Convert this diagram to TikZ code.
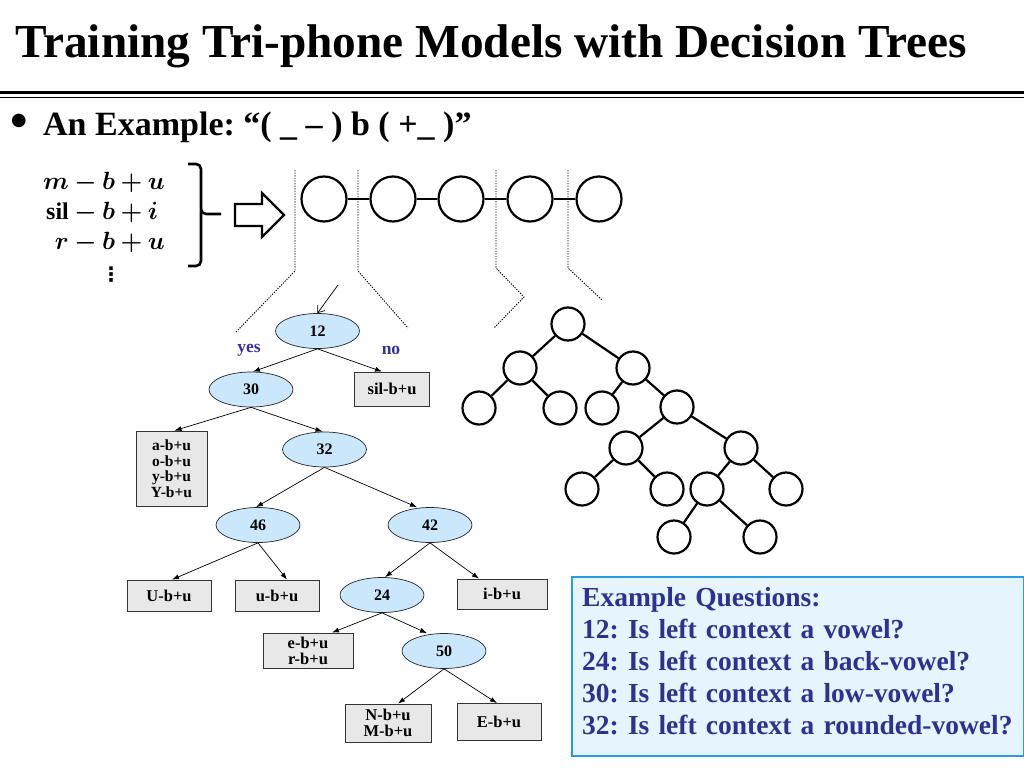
\documentclass[tikz,border=0pt]{standalone}
\usepackage{amsmath,amssymb,bm}
\usepackage{fontspec}
\setmainfont{Liberation Serif}
\newfontfamily\dejavu{DejaVu Sans}
\usetikzlibrary{shapes.geometric,arrows.meta}
\definecolor{qfill}{RGB}{202,231,252}
\definecolor{leaffill}{RGB}{232,232,232}
\definecolor{yncol}{RGB}{51,51,153}
\definecolor{qtext}{RGB}{46,49,146}
\definecolor{qborder}{RGB}{41,155,226}
\definecolor{qbg}{RGB}{230,244,254}
\frenchspacing
\tikzset{
  qnode/.style={ellipse, draw=black!85, line width=0.7pt, fill=qfill, minimum width=84pt, minimum height=35pt, inner sep=0pt, font=\fontsize{16}{17}\selectfont\bfseries},
  leaf/.style={rectangle, draw=black!80, line width=0.8pt, fill=leaffill, inner sep=0pt, align=center, font=\fontsize{16.5}{16}\selectfont\bfseries},
  tedge/.style={-{Latex[length=7pt,width=5pt]}, line width=0.7pt, black},
  hmm/.style={circle, draw, line width=2.2pt, minimum size=45pt, inner sep=0pt},
  tnode/.style={circle, draw, line width=2.2pt, minimum size=33pt, inner sep=0pt},
  thick edge/.style={line width=2.2pt},
  dotline/.style={line width=0.9pt, black, dash pattern=on 1.3pt off 1.3pt},
  yn/.style={font=\fontsize{17.5}{18}\selectfont\bfseries, text=yncol, inner sep=0pt}
}
\begin{document}
\begin{tikzpicture}[x=1pt,y=-1pt]
\path[use as bounding box] (0,0) rectangle (1024,768);

% title
\node[anchor=base west, inner sep=0pt, font=\fontsize{47.3}{50}\selectfont\bfseries] (title) at (15,57.5) {Training Tri-phone Models with Decision Trees};
\draw[line width=3pt] (0,92) -- (1024,92);
\draw[line width=1.2pt] (0,97.5) -- (1024,97.5);

% bullet line
\node[inner sep=0pt, font=\fontsize{50}{50}\selectfont\bfseries] (bul) at (19,126) {•};
\node[anchor=base west, inner sep=0pt, font=\fontsize{34}{36}\selectfont\bfseries] (ex) at (43,135) {An Example: “( \_ – ) b ( +\_ )”};

% contexts
\node[anchor=west, inner sep=0pt, font=\fontsize{24}{30}\selectfont] (ctx) at (43,213)
  {$\begin{array}{@{}r@{}l@{}} \bm{m} & \bm{{}-b+u}\\ \mathbf{sil} & \bm{{}-b+i}\\ \bm{r} & \bm{{}-b+u} \end{array}$};
\node[inner sep=0pt, font=\dejavu\fontsize{20}{20}\selectfont\bfseries] (vd) at (111,275) {⋮};

% bracket
\draw[line width=2.6pt, rounded corners=5pt] (188,164) -- (201,164) -- (201,214) -- (221,214);
\draw[line width=2.6pt, rounded corners=5pt] (201,210) -- (201,266) -- (188,266);

% hollow arrow
\draw[line width=2.2pt, fill=white, line join=miter] (235,204) -- (262,204) -- (262,193) -- (284,215) -- (262,237) -- (262,226) -- (235,226) -- cycle;

% HMM states
\node[hmm] (h1) at (324,199) {};
\node[hmm] (h2) at (393,199) {};
\node[hmm] (h3) at (461,199) {};
\node[hmm] (h4) at (530,199) {};
\node[hmm] (h5) at (599,199) {};
\draw[thick edge] (h1) -- (h2);
\draw[thick edge] (h2) -- (h3);
\draw[thick edge] (h3) -- (h4);
\draw[thick edge] (h4) -- (h5);

% dotted guide lines
\draw[dotline] (295,170) -- (295,271) -- (236,332);
\draw[dotline] (358,170) -- (358,271) -- (408,328);
\draw[dotline] (496,170) -- (496,268) -- (524,297) -- (494,328);
\draw[dotline] (568,170) -- (568,268) -- (602,300);

% decision tree
\node[qnode] (q12) at (317.5,331) {12};
\node[qnode] (q30) at (251,389.5) {30};
\node[leaf, minimum width=75pt, minimum height=34pt] (sil) at (392,389) {sil-b+u};
\node[qnode] (q32) at (324.5,449.5) {32};
\node[leaf, minimum width=71pt, minimum height=75pt, font=\fontsize{15.5}{15.5}\selectfont\bfseries] (abu) at (171.5,468.5) {a-b+u\\o-b+u\\y-b+u\\Y-b+u};
\node[qnode] (q46) at (258,525) {46};
\node[qnode] (q42) at (430,525) {42};
\node[leaf, minimum width=84pt, minimum height=31pt] (Ubu) at (169,595.5) {U-b+u};
\node[leaf, minimum width=84pt, minimum height=31pt] (ubu) at (277,595.5) {u-b+u};
\node[qnode] (q24) at (382,595) {24};
\node[leaf, minimum width=90pt, minimum height=30pt] (ibu) at (502,594) {i-b+u};
\node[leaf, minimum width=90pt, minimum height=35pt] (erbu) at (308,650.5) {e-b+u\\r-b+u};
\node[qnode] (q50) at (444,651) {50};
\node[leaf, minimum width=86pt, minimum height=38pt] (NMbu) at (388,723) {N-b+u\\M-b+u};
\node[leaf, minimum width=84pt, minimum height=37pt] (Ebu) at (499,722) {E-b+u};

\node[yn] (yes) at (249,350) {yes};
\node[yn] (no) at (391,350) {no};

\coordinate (pa) at (338,285);
\draw[-{Straight Barb[length=6pt,width=9pt]}, line width=0.7pt] (pa) -- (q12.north);

\draw[tedge] (q12.south) -- ([xshift=2pt]q30.north);
\draw[tedge] (q12.south) -- ([xshift=-10pt]sil.north);
\draw[tedge] (q30.south) -- ([xshift=3pt]abu.north);
\draw[tedge] (q30.south) -- ([xshift=-2pt]q32.north);
\draw[tedge] (q32.south) -- ([xshift=-2pt]q46.north);
\draw[tedge] (q32.south) -- ([xshift=-13pt]q42.north);
\draw[tedge] (q46.south) -- ([xshift=3pt]Ubu.north);
\draw[tedge] (q46.south) -- ([xshift=10pt]ubu.north);
\draw[tedge] (q42.south) -- ([xshift=3pt]q24.north);
\draw[tedge] (q42.south) -- ([xshift=-23pt]ibu.north);
\draw[tedge] (q24.south) -- ([xshift=24pt]erbu.north);
\draw[tedge] (q24.south) -- ([xshift=-17pt]q50.north);
\draw[tedge] (q50.south) -- ([xshift=10pt]NMbu.north);
\draw[tedge] (q50.south) -- ([xshift=-2pt]Ebu.north);

% generic tree
\node[tnode] (r0) at (568,324) {};
\node[tnode] (a1) at (520,368) {};
\node[tnode] (b1) at (633,368) {};
\node[tnode] (a2) at (479,408) {};
\node[tnode] (b2) at (560,408) {};
\node[tnode] (c2) at (602,408) {};
\node[tnode] (d2) at (677,407) {};
\node[tnode] (a3) at (626,448) {};
\node[tnode] (b3) at (741,448) {};
\node[tnode] (a4) at (582,489) {};
\node[tnode] (b4) at (667,489) {};
\node[tnode] (c4) at (707,489) {};
\node[tnode] (d4) at (786,489) {};
\node[tnode] (a5) at (674,537) {};
\node[tnode] (b5) at (760,537) {};
\draw[thick edge] (r0) -- (a1);
\draw[thick edge] (r0) -- (b1);
\draw[thick edge] (a1) -- (a2);
\draw[thick edge] (a1) -- (b2);
\draw[thick edge] (b1) -- (c2);
\draw[thick edge] (b1) -- (d2);
\draw[thick edge] (d2) -- (a3);
\draw[thick edge] (d2) -- (b3);
\draw[thick edge] (a3) -- (a4);
\draw[thick edge] (a3) -- (b4);
\draw[thick edge] (b3) -- (c4);
\draw[thick edge] (b3) -- (d4);
\draw[thick edge] (c4) -- (a5);
\draw[thick edge] (c4) -- (b5);

% example questions
\node[draw=qborder, fill=qbg, line width=2pt, anchor=north west, minimum width=452pt, minimum height=179pt, inner sep=0pt] (qbox) at (571,576) {};
\node[anchor=north west, inner sep=0pt, text width=438pt, align=left, text=qtext,
      font=\fontsize{27.5}{32}\selectfont\bfseries] (qtxt) at (582,587)
  {Example Questions:\\12: Is left context a vowel?\\24: Is left context a back-vowel?\\30: Is left context a low-vowel?\\32: Is left context a rounded-vowel?};
\end{tikzpicture}
\end{document}
